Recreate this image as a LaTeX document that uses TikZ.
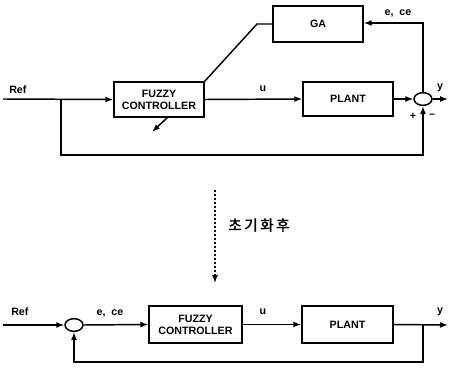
\documentclass[tikz,border=0pt]{standalone}
\usepackage{fontspec}
\setmainfont{Liberation Sans}
\newfontfamily\korfont{Noto Sans CJK KR}[FakeBold=1.6]
\usetikzlibrary{arrows.meta,shapes.geometric}

\tikzset{
  blk/.style={draw, line width=1.1pt, inner sep=0pt, align=center,
    font=\bfseries\fontsize{8}{9}\selectfont},
  sumpt/.style={draw, ellipse, line width=1.1pt, inner sep=0pt,
    minimum width=13.5pt, minimum height=9.5pt},
  sig/.style={line width=1.1pt},
  sigarr/.style={line width=1.1pt, -{Latex[length=6pt,width=4.5pt]}},
  lbl/.style={inner sep=0.75pt, font=\bfseries\fontsize{8}{9}\selectfont}
}

\begin{document}
\begin{tikzpicture}[x=0.75pt,y=0.75pt,yscale=-1]
\path[use as bounding box] (0,0) rectangle (450,374);

%Upper loop: blocks
\node[blk, minimum width=67.5pt, minimum height=26.25pt] (fc) at (159,99.5) {FUZZY\\CONTROLLER};
\node[blk, minimum width=67.5pt, minimum height=27pt] (ga) at (318,24) {GA};
\node[blk, minimum width=67.5pt, minimum height=25.5pt] (plant) at (348,99) {PLANT};
\node[sumpt] (sum) at (423,99) {};

%Upper loop: free ends and corners
\coordinate (refin) at (3,99);
\coordinate (br) at (61,99);
\coordinate (brlow) at (61,155);
\coordinate (sumlow) at (423,155);
\coordinate (yout) at (448,99);
\coordinate (sumup) at (423,23);
\coordinate (gabend) at (257,24);
\coordinate (adjtop) at (168,117);
\coordinate (adjend) at (152,132);

%Upper loop: connectors
\draw[sigarr] (refin) -- (fc.west);
\draw[sigarr] (fc.east) -- (plant.west);
\draw[sigarr] (plant.east) -- (sum.west);
\draw[sigarr] (sum.east) -- (yout);
\draw[sigarr] (br) -- (brlow) -- (sumlow) -- (sum.south);
\draw[sigarr] (sum.north) -- (sumup) -- (ga.east |- sumup);
\draw[sig] (ga.west) -- (gabend) -- (fc.north east);
\draw[sigarr] (adjtop) -- (adjend);

%Upper loop: labels
\node[lbl, anchor=west] (lref) at (8,90) {Ref};
\node[lbl] (lu) at (263,89) {u};
\node[lbl] (ly) at (440,88) {y};
\node[lbl] (lece) at (398,13) {e,\ \ ce};
\node[lbl] (lplus) at (413,116) {+};
\node[lbl] (lminus) at (432,116) {–};

%Transition
\coordinate (dtop) at (215,190);
\coordinate (dbot) at (215,283);
\draw[line width=1pt, dash pattern=on 1.8pt off 1.2pt, -{Latex[length=6pt,width=4.5pt]}] (dtop) -- (dbot);
\node[inner sep=0pt, font=\korfont\fontsize{11}{12}\selectfont] (linit) at (259,225) {초\,기\,화\,후};

%Lower loop: blocks
\node[blk, minimum width=69.75pt, minimum height=27.75pt] (fcb) at (195.5,324.5) {FUZZY\\CONTROLLER};
\node[blk, minimum width=68.25pt, minimum height=27.75pt] (plantb) at (347.5,324.5) {PLANT};
\node[sumpt] (sumb) at (74,325) {};

%Lower loop: free ends and corners
\coordinate (refinb) at (3,325);
\coordinate (youtb) at (448,325);
\coordinate (brb) at (423,325);
\coordinate (brblow) at (423,362);
\coordinate (sumblow) at (74,362);

%Lower loop: connectors
\draw[sigarr] (refinb) -- (sumb.west);
\draw[sigarr] (sumb.east) -- (fcb.west);
\draw[sigarr] (fcb.east) -- (plantb.west);
\draw[sigarr] (plantb.east) -- (youtb);
\draw[sigarr] (brb) -- (brblow) -- (sumblow) -- (sumb.south);

%Lower loop: labels
\node[lbl, anchor=west] (lrefb) at (10,312) {Ref};
\node[lbl] (leceb) at (110,313) {e,\ \ ce};
\node[lbl] (lub) at (263,312) {u};
\node[lbl] (lyb) at (440,312) {y};
\end{tikzpicture}
\end{document}
